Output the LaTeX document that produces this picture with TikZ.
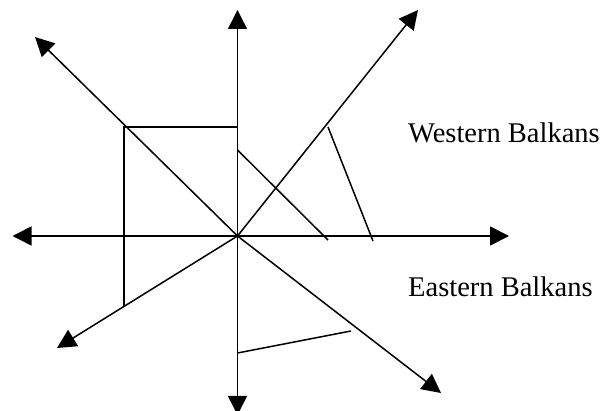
\documentclass[tikz,border=0pt]{standalone}
\usepackage{fontspec}
\setmainfont{Liberation Serif}
\usetikzlibrary{arrows.meta}
\begin{document}
\begin{tikzpicture}[x=1pt,y=-1pt,
  ln/.style={line width=1.5pt,black},
  arr/.style={ln,-{Triangle[length=19pt,width=19pt]}},
  darr/.style={ln,{Triangle[length=19pt,width=19pt]}-{Triangle[length=19pt,width=19pt]}},
  lbl/.style={inner sep=0pt,anchor=base west,font=\fontsize{28.5}{34}\selectfont}]
\useasboundingbox (0,0) rectangle (613,411);
% points
\coordinate (O) at (237.5,236);
\coordinate (N) at (237.5,10);
\coordinate (S) at (237.5,415);
\coordinate (W) at (12.5,236);
\coordinate (E) at (509,236);
\coordinate (NW) at (35,37);
\coordinate (NE) at (418,10);
\coordinate (SW) at (57,348);
\coordinate (SE) at (441,393);
\coordinate (Q1) at (124,127);
\coordinate (Q2) at (237.5,127);
\coordinate (Q3) at (124,307);
\coordinate (A1) at (237.5,150);
\coordinate (A2) at (328,240);
\coordinate (B1) at (328,127);
\coordinate (B2) at (373,241);
\coordinate (C1) at (237.5,353);
\coordinate (C2) at (351,331);
% axes
\draw[darr] (S) -- (N);
\draw[darr] (W) -- (E);
\draw[arr] (O) -- (NW);
\draw[arr] (O) -- (NE);
\draw[arr] (O) -- (SW);
\draw[arr] (O) -- (SE);
% extra lines
\draw[ln] (Q2) -- (Q1) -- (Q3);
\draw[ln] (A1) -- (A2);
\draw[ln] (B1) -- (B2);
\draw[ln] (C1) -- (C2);
% labels
\node[lbl] (wb) at (408,142.7) {Western Balkans};
\node[lbl] (eb) at (408,296.7) {Eastern Balkans};
\end{tikzpicture}
\end{document}
